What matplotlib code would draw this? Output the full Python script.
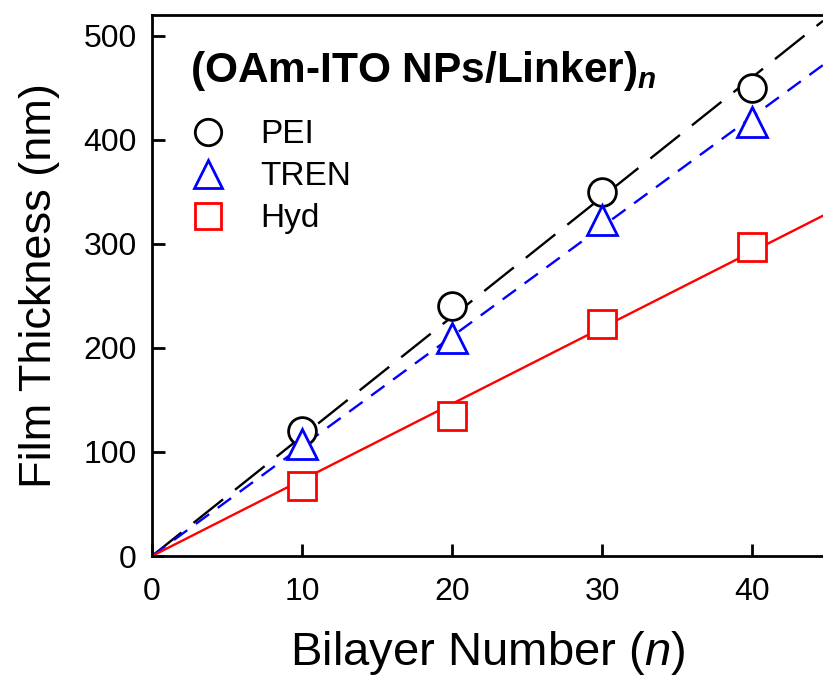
import numpy as np
import matplotlib
matplotlib.use("Agg")
import matplotlib.pyplot as plt
from matplotlib.lines import Line2D

plt.rcParams['font.family'] = ['Liberation Sans', 'DejaVu Sans']
plt.rcParams['mathtext.fontset'] = 'custom'
plt.rcParams['mathtext.it'] = 'Liberation Sans:italic'
plt.rcParams['mathtext.bf'] = 'Liberation Sans:bold'
plt.rcParams['mathtext.bfit'] = 'Liberation Sans:bold:italic'

bilayers = [10, 20, 30, 40]
pei = [120, 240, 350, 450]
tren = [108, 210, 323, 417]
hyd = [67, 135, 223, 297]

LW = 1.7
series = [
    ("PEI", pei, "o", "black", (0, (16, 6.5))),
    ("TREN", tren, "^", "#0000ff", (0, (7, 4.5))),
    ("Hyd", hyd, "s", "#ff0000", "-"),
]

fig = plt.figure(figsize=(8.23, 6.86), dpi=100)
ax = fig.add_axes([152 / 823, 1 - 556 / 686, 1 - 152 / 823, (556 - 15) / 686])

xmax = 44.73
xfit = np.array([0, xmax])
x = np.array(bilayers, dtype=float)
handles = []
for name, vals, mk, col, ls in series:
    y = np.array(vals, dtype=float)
    # least-squares line through the origin
    slope = np.sum(x * y) / np.sum(x * x)
    ax.plot(xfit, slope * xfit, color=col, lw=LW, ls=ls, zorder=2)
    ax.plot(x, y, ls="none", marker=mk, ms=20 if mk != "^" else 21,
            mfc="white", mec=col, mew=2.0, zorder=3)
    handles.append(Line2D([], [], ls="none", marker=mk, ms=19 if mk != "^" else 20,
                          mfc="none", mec=col, mew=2.0, label=name))

ax.set_xlim(0, xmax)
ax.set_ylim(0, 520)
ax.set_xticks([0, 10, 20, 30, 40])
ax.set_yticks([0, 100, 200, 300, 400, 500])
ax.tick_params(direction="in", length=9, width=2, labelsize=23)
ax.tick_params(axis="x", pad=15)
ax.tick_params(axis="y", pad=11)
for s in ["left", "bottom", "top"]:
    ax.spines[s].set_linewidth(2)
ax.spines["right"].set_visible(False)

ax.set_xlabel("Bilayer Number ($\\mathit{n}$)", fontsize=34, labelpad=16)
ax.set_ylabel("Film Thickness (nm)", fontsize=32.5, labelpad=17)

ax.text(0.056, 0.897, "(OAm-ITO NPs/Linker)$_\\mathbfit{n}$",
        transform=ax.transAxes, fontsize=30.5, fontweight="bold", va="center")

leg = ax.legend(handles=handles, loc="upper left", bbox_to_anchor=(0.039, 0.832),
                frameon=False, fontsize=24, handlelength=1.0, handletextpad=1.05,
                labelspacing=0.33, borderaxespad=0)

fig.savefig("out.png", dpi=100)
